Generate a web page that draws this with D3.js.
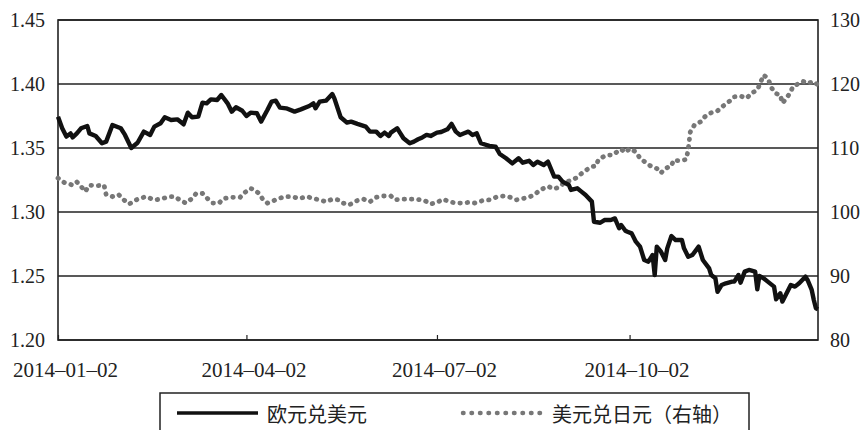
<html>
<script src='https://d3js.org/d3.v7.min.js'></script>

<style>
body {margin: 0; background: white;}
.axis text {font-family: "Liberation Serif", "DejaVu Serif", serif; fill: #222;}
.legend text {font-family: "Noto Sans CJK SC", sans-serif; font-size: 20px; fill: #222;}
</style>

<body>
<svg width=864 height=430></svg>

<script>
// x categories (dates) and values for 欧元兑美元 (left axis)
var eurDates = ["2014-01-02","2014-01-04","2014-01-06","2014-01-08","2014-01-09","2014-01-11","2014-01-13","2014-01-16","2014-01-17","2014-01-20",
"2014-01-23","2014-01-25","2014-01-28","2014-02-01","2014-02-03","2014-02-06","2014-02-09","2014-02-12","2014-02-15","2014-02-17",
"2014-02-20","2014-02-22","2014-02-25","2014-02-28","2014-03-03","2014-03-05","2014-03-07","2014-03-10","2014-03-12","2014-03-14",
"2014-03-16","2014-03-19","2014-03-21","2014-03-24","2014-03-26","2014-03-28","2014-03-31","2014-04-02","2014-04-04","2014-04-07",
"2014-04-09","2014-04-12","2014-04-14","2014-04-16","2014-04-18","2014-04-21","2014-04-25","2014-04-28","2014-05-02","2014-05-04",
"2014-05-05","2014-05-07","2014-05-10","2014-05-13","2014-05-14","2014-05-17","2014-05-20","2014-05-22","2014-05-25","2014-05-29",
"2014-05-31","2014-06-03","2014-06-05","2014-06-07","2014-06-09","2014-06-10","2014-06-13","2014-06-14","2014-06-16","2014-06-19",
"2014-06-21","2014-06-23","2014-06-25","2014-06-27","2014-06-29","2014-07-02","2014-07-04","2014-07-07","2014-07-09","2014-07-11",
"2014-07-13","2014-07-15","2014-07-17","2014-07-19","2014-07-21","2014-07-23","2014-07-27","2014-07-30","2014-08-01","2014-08-04",
"2014-08-07","2014-08-10","2014-08-12","2014-08-15","2014-08-17","2014-08-19","2014-08-22","2014-08-24","2014-08-27","2014-08-29",
"2014-08-31","2014-09-03","2014-09-04","2014-09-07","2014-09-09","2014-09-11","2014-09-14","2014-09-15","2014-09-18","2014-09-20",
"2014-09-23","2014-09-25","2014-09-27","2014-09-28","2014-09-30","2014-10-01","2014-10-03","2014-10-05","2014-10-07","2014-10-09",
"2014-10-11","2014-10-13","2014-10-14","2014-10-15","2014-10-17","2014-10-19","2014-10-20","2014-10-22","2014-10-24","2014-10-27",
"2014-10-28","2014-10-30","2014-11-01","2014-11-04","2014-11-06","2014-11-09","2014-11-10","2014-11-12","2014-11-13","2014-11-15",
"2014-11-17","2014-11-20","2014-11-21","2014-11-23","2014-11-24","2014-11-26","2014-11-28","2014-12-01","2014-12-02","2014-12-03",
"2014-12-05","2014-12-07","2014-12-10","2014-12-11","2014-12-13","2014-12-14","2014-12-16","2014-12-18","2014-12-20","2014-12-22",
"2014-12-25","2014-12-26","2014-12-28","2014-12-29","2014-12-30","2014-12-31"];
var eurRate = [1.3745,1.3654,1.3589,1.3614,1.3583,1.3614,1.3654,1.3672,1.3614,1.3594,
1.3537,1.3550,1.3680,1.3654,1.3602,1.3500,1.3541,1.3628,1.3602,1.3667,
1.3693,1.3740,1.3719,1.3724,1.3685,1.3776,1.3740,1.3745,1.3854,1.3849,
1.3880,1.3875,1.3914,1.3849,1.3784,1.3818,1.3791,1.3750,1.3776,1.3771,
1.3706,1.3797,1.3862,1.3870,1.3815,1.3810,1.3784,1.3802,1.3828,1.3849,
1.3810,1.3862,1.3870,1.3922,1.3888,1.3740,1.3698,1.3706,1.3688,1.3667,
1.3628,1.3628,1.3594,1.3620,1.3594,1.3620,1.3654,1.3628,1.3576,1.3537,
1.3550,1.3568,1.3583,1.3602,1.3594,1.3620,1.3625,1.3646,1.3688,1.3628,
1.3602,1.3615,1.3628,1.3602,1.3615,1.3537,1.3516,1.3510,1.3453,1.3420,
1.3380,1.3420,1.3385,1.3400,1.3367,1.3393,1.3367,1.3393,1.3276,1.3276,
1.3237,1.3211,1.3172,1.3185,1.3159,1.3133,1.3081,1.2924,1.2916,1.2937,
1.2937,1.2950,1.2873,1.2898,1.2854,1.2846,1.2833,1.2768,1.2729,1.2625,
1.2612,1.2664,1.2508,1.2729,1.2690,1.2625,1.2716,1.2812,1.2781,1.2781,
1.2716,1.2651,1.2664,1.2729,1.2625,1.2560,1.2508,1.2482,1.2377,1.2430,
1.2443,1.2456,1.2456,1.2508,1.2448,1.2534,1.2547,1.2534,1.2396,1.2500,
1.2482,1.2456,1.2417,1.2318,1.2365,1.2300,1.2365,1.2430,1.2417,1.2443,
1.2495,1.2469,1.2391,1.2313,1.2248,1.2240];

// 美元兑日元 (right axis)
var jpyDates = ["2014-01-02","2014-01-05","2014-01-09","2014-01-11","2014-01-13","2014-01-15","2014-01-17","2014-01-20","2014-01-24","2014-01-25",
"2014-01-28","2014-01-31","2014-02-02","2014-02-05","2014-02-09","2014-02-13","2014-02-17","2014-02-20","2014-02-24","2014-02-27",
"2014-03-01","2014-03-04","2014-03-07","2014-03-09","2014-03-12","2014-03-15","2014-03-17","2014-03-20","2014-03-22","2014-03-26",
"2014-03-30","2014-04-01","2014-04-04","2014-04-06","2014-04-08","2014-04-10","2014-04-12","2014-04-16","2014-04-20","2014-04-24",
"2014-04-27","2014-05-01","2014-05-04","2014-05-07","2014-05-10","2014-05-13","2014-05-16","2014-05-18","2014-05-21","2014-05-25",
"2014-05-28","2014-05-31","2014-06-03","2014-06-06","2014-06-10","2014-06-12","2014-06-15","2014-06-19","2014-06-22","2014-06-26",
"2014-06-29","2014-07-02","2014-07-05","2014-07-08","2014-07-11","2014-07-14","2014-07-17","2014-07-20","2014-07-24","2014-07-27",
"2014-07-31","2014-08-03","2014-08-06","2014-08-09","2014-08-12","2014-08-15","2014-08-18","2014-08-20","2014-08-24","2014-08-27",
"2014-08-30","2014-09-01","2014-09-04","2014-09-07","2014-09-09","2014-09-12","2014-09-14","2014-09-16","2014-09-17","2014-09-20",
"2014-09-22","2014-09-24","2014-09-26","2014-09-28","2014-09-30","2014-10-02","2014-10-05","2014-10-07","2014-10-09","2014-10-12",
"2014-10-15","2014-10-17","2014-10-19","2014-10-22","2014-10-23","2014-10-26","2014-10-29","2014-10-30","2014-10-31","2014-11-02",
"2014-11-05","2014-11-07","2014-11-09","2014-11-13","2014-11-15","2014-11-18","2014-11-21","2014-11-24","2014-11-27","2014-11-29",
"2014-12-02","2014-12-03","2014-12-05","2014-12-07","2014-12-09","2014-12-11","2014-12-13","2014-12-14","2014-12-16","2014-12-18",
"2014-12-19","2014-12-22","2014-12-24","2014-12-26","2014-12-29","2014-12-31"];
var jpyRate = [105.3,104.6,104.2,104.7,104.0,103.2,104.2,104.1,104.2,102.7,
102.4,102.7,102.0,101.25,102.0,102.4,101.9,102.0,102.4,102.4,
101.9,101.4,102.1,102.9,102.9,101.9,101.4,101.4,102.1,102.3,
102.3,103.0,103.7,103.4,102.9,101.9,101.4,101.9,102.4,102.4,
102.1,102.4,102.1,101.9,101.6,102.0,101.9,101.4,101.1,101.8,
102.0,101.6,102.3,102.5,102.5,101.9,102.0,102.0,102.0,101.8,
101.25,101.5,102.0,101.6,101.4,101.4,101.5,101.4,101.8,101.9,
102.4,102.5,102.3,101.9,102.1,102.3,102.8,103.4,104.0,103.6,
104.0,104.7,104.9,105.4,106.0,106.7,107.1,107.2,108.1,108.75,
108.9,108.9,109.4,109.8,109.3,109.9,109.4,108.4,107.9,107.2,
106.8,106.1,106.8,107.2,108.1,108.0,108.2,109.7,112.5,113.6,
114.1,114.9,115.4,115.8,116.4,117.1,118.0,118.1,117.8,118.5,
119.1,119.8,121.4,120.9,119.3,118.5,118.3,117.0,117.8,118.8,
119.6,120.1,120.4,120.1,120.4,119.8];

var leftTicks = [1.20, 1.25, 1.30, 1.35, 1.40, 1.45];
var rightTicks = [80, 90, 100, 110, 120, 130];
var xTicks = ["2014-01-02", "2014-04-02", "2014-07-02", "2014-10-02"];
var legendNames = ["欧元兑美元", "美元兑日元（右轴）"];

var parse = d3.timeParse("%Y-%m-%d");
var plotLeft = 58, plotRight = 818, plotTop = 20, plotBottom = 340;

var x = d3.scaleTime().domain([parse("2014-01-02"), parse("2014-12-31")]).range([plotLeft, plotRight]);
var yL = d3.scaleLinear().domain([1.20, 1.45]).range([plotBottom, plotTop]);
var yR = d3.scaleLinear().domain([80, 130]).range([plotBottom, plotTop]);

var svg = d3.select("svg");

var eur = eurDates.map(function(d, i) {return {date: parse(d), v: eurRate[i]};});
var jpy = jpyDates.map(function(d, i) {return {date: parse(d), v: jpyRate[i]};});

//gridlines
svg.append("g").selectAll("line")
.data(leftTicks)
.enter()
.append("line")
.attr("x1", plotLeft).attr("x2", plotRight)
.attr("y1", function(d) {return yL(d);})
.attr("y2", function(d) {return yL(d);})
.style("stroke", "#222").style("stroke-width", 1.5);

//frame
svg.append("rect")
.attr("x", plotLeft).attr("y", plotTop)
.attr("width", plotRight - plotLeft).attr("height", plotBottom - plotTop)
.style("fill", "none").style("stroke", "#222").style("stroke-width", 1.6);

//left axis
svg.append("g").attr("class", "axis")
.attr("transform", "translate(" + plotLeft + ",0)")
.call(d3.axisLeft(yL).tickValues(leftTicks).tickFormat(d3.format(".2f")).tickSize(0).tickPadding(13))
.call(function(g) {g.select(".domain").remove();})
.selectAll("text").style("font-size", "20px");

//right axis
svg.append("g").attr("class", "axis")
.attr("transform", "translate(" + plotRight + ",0)")
.call(d3.axisRight(yR).tickValues(rightTicks).tickSize(0).tickPadding(12))
.call(function(g) {g.select(".domain").remove();})
.selectAll("text").style("font-size", "20px");

//bottom axis, small ticks pointing up
var fmt = d3.timeFormat("%Y–%m–%d");
svg.append("g").attr("class", "axis")
.attr("transform", "translate(0," + plotBottom + ")")
.call(d3.axisBottom(x).tickValues(xTicks.map(parse)).tickFormat(fmt).tickSizeInner(-5).tickSizeOuter(0).tickPadding(22))
.call(function(g) {g.select(".domain").remove();})
.call(function(g) {g.selectAll(".tick line").style("stroke", "#222").style("stroke-width", 1.2);})
.selectAll("text").style("font-size", "21px").attr("dx", 7);

//lines
var lineL = d3.line().x(function(d) {return x(d.date);}).y(function(d) {return yL(d.v);});
var lineR = d3.line().x(function(d) {return x(d.date);}).y(function(d) {return yR(d.v);});

svg.append("path")
.datum(jpy)
.attr("d", lineR)
.style("fill", "none").style("stroke", "#777").style("stroke-width", 4.8)
.style("stroke-dasharray", "0.5,6.8").style("stroke-linecap", "round");

svg.append("path")
.datum(eur)
.attr("d", lineL)
.style("fill", "none").style("stroke", "#111").style("stroke-width", 4.4)
.style("stroke-linejoin", "round");

//legend
var lg = svg.append("g").attr("class", "legend");
lg.append("rect").attr("x", 160).attr("y", 393).attr("width", 589).attr("height", 60)
.style("fill", "white").style("stroke", "#222").style("stroke-width", 1.5);
lg.append("line").attr("x1", 177).attr("x2", 258).attr("y1", 413).attr("y2", 413)
.style("stroke", "#111").style("stroke-width", 3.5);
lg.append("text").attr("x", 267).attr("y", 413).attr("dominant-baseline", "central").text(legendNames[0]);
lg.append("line").attr("x1", 463).attr("x2", 540).attr("y1", 413).attr("y2", 413)
.style("stroke", "#777").style("stroke-width", 4.5)
.style("stroke-dasharray", "0.5,8").style("stroke-linecap", "round");
lg.append("text").attr("x", 552).attr("y", 413).attr("dominant-baseline", "central").text(legendNames[1]);
</script>
</body>
</html>
